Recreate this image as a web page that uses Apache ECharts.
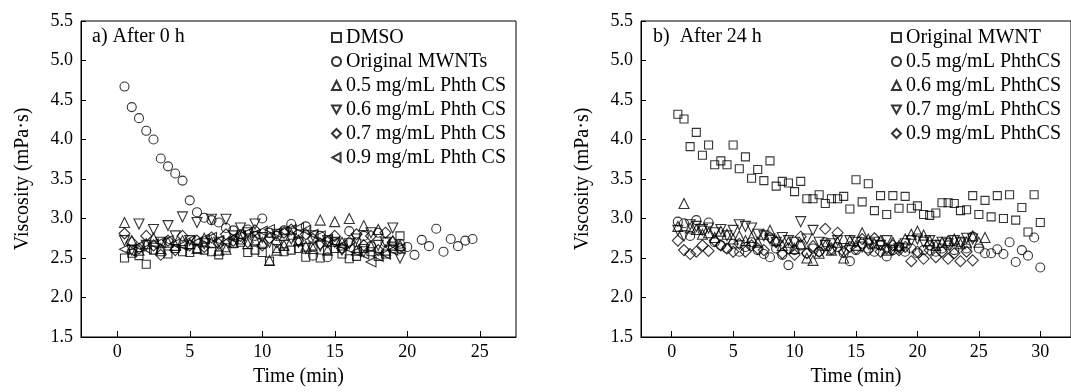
<!DOCTYPE html>
<html>
<head>
<meta charset="utf-8">
<script src="https://cdn.jsdelivr.net/npm/echarts@6/dist/echarts.min.js"></script>
<style>
html,body{margin:0;padding:0;background:#fff;}
#chart{width:1071px;height:392px;}
</style>
</head>
<body>
<div id="chart"></div>
<script>
// ---------- DATA ----------
const timeA = [0.5, 1, 1.5, 2, 2.5, 3, 3.5, 4, 4.5, 5, 5.5, 6, 6.5, 7, 7.5, 8, 8.5, 9, 9.5, 10,
  10.5, 11, 11.5, 12, 12.5, 13, 13.5, 14, 14.5, 15, 15.5, 16, 16.5, 17, 17.5, 18, 18.5, 19, 19.5, 20,
  20.5, 21, 21.5, 22, 22.5, 23, 23.5, 24, 24.5];
const timeB = [0.5, 1, 1.5, 2, 2.5, 3, 3.5, 4, 4.5, 5, 5.5, 6, 6.5, 7, 7.5, 8, 8.5, 9, 9.5, 10,
  10.5, 11, 11.5, 12, 12.5, 13, 13.5, 14, 14.5, 15, 15.5, 16, 16.5, 17, 17.5, 18, 18.5, 19, 19.5, 20,
  20.5, 21, 21.5, 22, 22.5, 23, 23.5, 24, 24.5, 25, 25.5, 26, 26.5, 27, 27.5, 28, 28.5, 29, 29.5, 30];

// Panel a) After 0 h
const a_DMSO = [2.50, 2.56, 2.53, 2.42, 2.60, 2.58, 2.55, 2.62, 2.58, 2.57, 2.62, 2.60, 2.58, 2.54, 2.63, 2.68, 2.70, 2.57, 2.60, 2.57,
  2.46, 2.62, 2.58, 2.60, 2.62, 2.51, 2.65, 2.50, 2.60, 2.62, 2.55, 2.49, 2.52, 2.62, 2.58, 2.52, 2.55, 2.65, 2.78];
const a_MWNT = [4.67, 4.41, 4.27, 4.11, 4.00, 3.76, 3.66, 3.57, 3.48, 3.23, 3.08, 3.01, 2.98, 2.95, 2.88, 2.85, 2.80, 2.86, 2.78, 3.00,
  2.82, 2.78, 2.85, 2.93, 2.80, 2.90, 2.53, 2.78, 2.51, 2.70, 2.62, 2.84, 2.70, 2.78, 2.65, 2.82, 2.70, 2.62, 2.68, 2.64,
  2.54, 2.73, 2.65, 2.87, 2.58, 2.74, 2.65, 2.72, 2.74];
const a_P05 = [2.95, 2.72, 2.60, 2.68, 2.75, 2.62, 2.70, 2.66, 2.72, 2.68, 2.62, 2.75, 2.70, 2.60, 2.61, 2.70, 2.74, 2.68, 2.73,
  2.70, 2.47, 2.60, 2.66, 2.80, 2.72, 2.65, 2.62, 2.98, 2.60, 2.96, 2.70, 3.00, 2.60, 2.91, 2.65, 2.86, 2.60, 2.72, 2.66];
const a_P06 = [2.72, 2.60, 2.93, 2.66, 2.86, 2.70, 2.91, 2.78, 3.02, 2.72, 2.95, 2.68, 2.99, 2.70, 2.99, 2.78, 2.88, 2.82, 2.93, 2.76,
  2.70, 2.80, 2.66, 2.74, 2.70, 2.62, 2.78, 2.65, 2.72, 2.70, 2.60, 2.68, 2.74, 2.58, 2.82, 2.66, 2.70, 2.88, 2.50];
const a_P07 = [2.81, 2.70, 2.62, 2.78, 2.66, 2.54, 2.72, 2.60, 2.78, 2.66, 2.72, 2.64, 2.76, 2.68, 2.80, 2.72, 2.78, 2.70, 2.85, 2.66,
  2.75, 2.70, 2.82, 2.86, 2.72, 2.80, 2.74, 2.68, 2.70, 2.78, 2.62, 2.70, 2.80, 2.66, 2.78, 2.60, 2.82, 2.70, 2.62];
const a_P09 = [2.61, 2.58, 2.65, 2.62, 2.68, 2.70, 2.72, 2.68, 2.66, 2.72, 2.70, 2.74, 2.76, 2.72, 2.70, 2.75, 2.78, 2.82, 2.80, 2.84,
  2.86, 2.82, 2.84, 2.86, 2.88, 2.85, 2.80, 2.78, 2.74, 2.70, 2.66, 2.62, 2.58, 2.55, 2.45, 2.52, 2.55, 2.60, 2.62];

// Panel b) After 24 h
const b_MWNT = [4.32, 4.26, 3.91, 4.09, 3.80, 3.93, 3.68, 3.73, 3.68, 3.93, 3.63, 3.78, 3.51, 3.62, 3.48, 3.73, 3.41, 3.47, 3.45, 3.34,
  3.47, 3.25, 3.25, 3.30, 3.19, 3.25, 3.25, 3.28, 3.12, 3.49, 3.21, 3.44, 3.10, 3.29, 3.05, 3.29, 3.13, 3.28, 3.13, 3.16,
  3.05, 3.04, 3.07, 3.20, 3.20, 3.19, 3.10, 3.11, 3.29, 3.05, 3.23, 3.02, 3.29, 3.00, 3.30, 2.98, 3.14, 2.83, 3.30, 2.95];
const b_P05 = [2.96, 2.94, 2.78, 2.98, 2.85, 2.95, 2.70, 2.66, 2.62, 2.68, 2.58, 2.64, 2.70, 2.60, 2.55, 2.51, 2.62, 2.54, 2.41, 2.60,
  2.66, 2.56, 2.62, 2.58, 2.70, 2.60, 2.64, 2.56, 2.46, 2.60, 2.68, 2.62, 2.58, 2.66, 2.52, 2.60, 2.64, 2.58, 2.62, 2.56,
  2.60, 2.66, 2.58, 2.62, 2.66, 2.60, 2.70, 2.62, 2.77, 2.62, 2.56, 2.56, 2.61, 2.55, 2.70, 2.45, 2.60, 2.53, 2.76, 2.38];
const b_P06 = [2.90, 3.19, 2.88, 2.86, 2.80, 2.82, 2.76, 2.84, 2.80, 2.74, 2.78, 2.72, 2.76, 2.70, 2.80, 2.85, 2.72, 2.66, 2.70, 2.62,
  2.68, 2.50, 2.47, 2.56, 2.66, 2.60, 2.70, 2.50, 2.72, 2.66, 2.82, 2.74, 2.68, 2.72, 2.60, 2.70, 2.66, 2.74, 2.80, 2.84,
  2.79, 2.72, 2.66, 2.70, 2.72, 2.74, 2.68, 2.70, 2.78, 2.70, 2.76];
const b_P07 = [2.85, 2.78, 2.92, 2.90, 2.86, 2.88, 2.82, 2.86, 2.78, 2.85, 2.92, 2.90, 2.88, 2.80, 2.78, 2.74, 2.70, 2.76, 2.72, 2.70,
  2.96, 2.74, 2.85, 2.70, 2.66, 2.68, 2.72, 2.62, 2.72, 2.70, 2.64, 2.68, 2.70, 2.66, 2.72, 2.60, 2.62, 2.68, 2.72, 2.74,
  2.70, 2.72, 2.66, 2.70, 2.68, 2.72, 2.70, 2.75, 2.74];
const b_P09 = [2.72, 2.60, 2.55, 2.58, 2.66, 2.59, 2.72, 2.66, 2.62, 2.58, 2.68, 2.58, 2.66, 2.62, 2.60, 2.76, 2.70, 2.56, 2.62, 2.54,
  2.77, 2.56, 2.65, 2.58, 2.87, 2.62, 2.82, 2.58, 2.64, 2.62, 2.74, 2.60, 2.75, 2.58, 2.62, 2.66, 2.60, 2.64, 2.46, 2.58,
  2.49, 2.60, 2.51, 2.58, 2.49, 2.56, 2.46, 2.58, 2.47];

const xTicksA = [0, 5, 10, 15, 20, 25];
const xTicksB = [0, 5, 10, 15, 20, 25, 30];
const namesA = ['DMSO', 'Original MWNTs', '0.5 mg/mL Phth CS', '0.6 mg/mL Phth CS', '0.7 mg/mL Phth CS', '0.9 mg/mL Phth CS'];
const namesB = ['Original MWNT', '0.5 mg/mL PhthCS', '0.6 mg/mL PhthCS', '0.7 mg/mL PhthCS', '0.9 mg/mL PhthCS'];

// ---------- STYLE ----------
const FONT = '"Liberation Serif", "Times New Roman", serif';
const SYM = {
  square: 'rect',
  circle: 'circle',
  up: 'triangle',
  down: 'path://M0,0L10,0L5,9Z',
  left: 'path://M9,0L9,10L0,5Z',
  diamond: 'diamond'
};
const SIZE = { square: 8, circle: 9, up: 10, down: 10, left: 10, diamond: 11 };

function pairs(t, vals) { return vals.map((v, i) => [t[i], v]); }
function sc(name, t, vals, kind, idx) {
  return {
    type: 'scatter', name: name, xAxisIndex: idx, yAxisIndex: idx,
    data: pairs(t, vals), symbol: SYM[kind], symbolSize: SIZE[kind],
    itemStyle: { color: 'rgba(0,0,0,0)', borderColor: '#000', borderWidth: 1.1 },
    emphasis: { disabled: true }
  };
}
function xAxis(idx, max, ticks) {
  return {
    type: 'value', gridIndex: idx, min: -2.5, max: max,
    name: 'Time (min)', nameLocation: 'middle', nameGap: 30,
    nameTextStyle: { fontFamily: FONT, fontSize: 20, color: '#000' },
    axisLine: { show: true, onZero: false, lineStyle: { color: '#000', width: 1 } },
    axisTick: { show: true, inside: true, length: 6, customValues: ticks, lineStyle: { color: '#000' } },
    axisLabel: { customValues: ticks, fontFamily: FONT, fontSize: 18, color: '#000', margin: 6 },
    splitLine: { show: false }
  };
}
function yAxis(idx) {
  return {
    type: 'value', gridIndex: idx, min: 1.5, max: 5.5, interval: 0.5,
    name: 'Viscosity (mPa\u00b7s)', nameLocation: 'middle', nameGap: 48,
    nameTextStyle: { fontFamily: FONT, fontSize: 20, color: '#000' },
    axisLine: { show: true, onZero: false, lineStyle: { color: '#000', width: 1 } },
    axisTick: { show: true, inside: true, length: 5, lineStyle: { color: '#000' } },
    axisLabel: { fontFamily: FONT, fontSize: 18, color: '#000', margin: 8, formatter: v => v.toFixed(1) },
    splitLine: { show: false }
  };
}
function legend(names, left) {
  return {
    orient: 'vertical', left: left, top: 22, data: names,
    itemWidth: 9, itemHeight: 9, itemGap: 3, selectedMode: false,
    textStyle: { fontFamily: FONT, fontSize: 20, lineHeight: 21, color: '#000' }
  };
}

const chart = echarts.init(document.getElementById('chart'), null, { renderer: 'canvas' });
chart.setOption({
  animation: false,
  backgroundColor: '#fff',
  grid: [
    { left: 81, top: 21, width: 435, height: 320, show: true, borderColor: '#000', borderWidth: 1, backgroundColor: 'transparent' },
    { left: 641, top: 21, width: 435, height: 320, show: true, borderColor: '#000', borderWidth: 1, backgroundColor: 'transparent' }
  ],
  xAxis: [xAxis(0, 27.5, xTicksA), xAxis(1, 32.5, xTicksB)],
  yAxis: [yAxis(0), yAxis(1)],
  legend: [legend(namesA, 326), legend(namesB, 886)],
  graphic: [
    { type: 'text', left: 92, top: 27, style: { text: 'a) After 0 h', font: '20px ' + FONT, fill: '#000' } },
    { type: 'text', left: 653, top: 27, style: { text: 'b)  After 24 h', font: '20px ' + FONT, fill: '#000' } }
  ],
  series: [
    sc(namesA[0], timeA, a_DMSO, 'square', 0),
    sc(namesA[1], timeA, a_MWNT, 'circle', 0),
    sc(namesA[2], timeA, a_P05, 'up', 0),
    sc(namesA[3], timeA, a_P06, 'down', 0),
    sc(namesA[4], timeA, a_P07, 'diamond', 0),
    sc(namesA[5], timeA, a_P09, 'left', 0),
    sc(namesB[0], timeB, b_MWNT, 'square', 1),
    sc(namesB[1], timeB, b_P05, 'circle', 1),
    sc(namesB[2], timeB, b_P06, 'up', 1),
    sc(namesB[3], timeB, b_P07, 'down', 1),
    sc(namesB[4], timeB, b_P09, 'diamond', 1)
  ]
});
</script>
</body>
</html>
